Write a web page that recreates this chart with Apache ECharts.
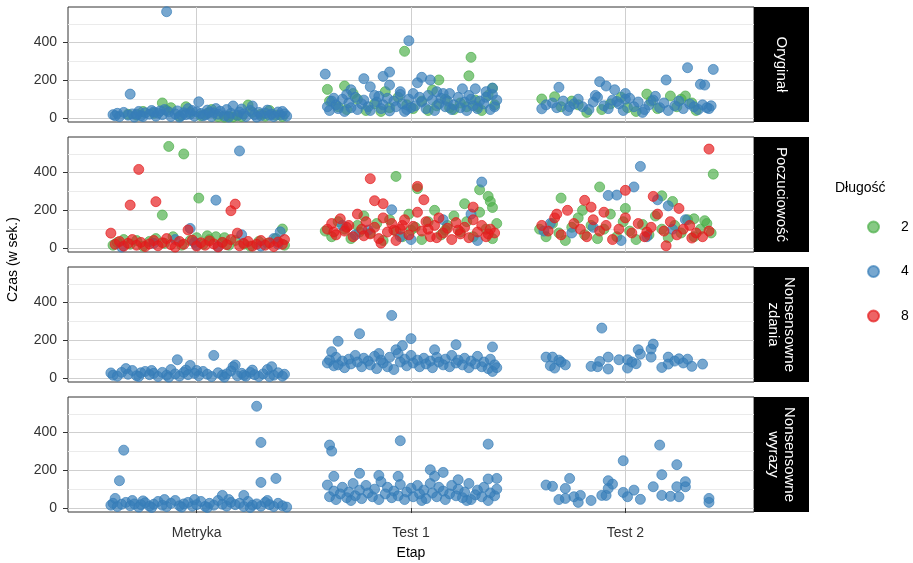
<!DOCTYPE html>
<html>
<head>
<meta charset="utf-8">
<script src="https://cdn.jsdelivr.net/npm/echarts@6/dist/echarts.min.js"></script>
<style>
html,body{margin:0;padding:0;background:#fff;}
#chart{width:913px;height:563px;}
</style>
</head>
<body>
<div id="chart"></div>
<script>
// ---------- data ----------
const categories = ['Metryka', 'Test 1', 'Test 2'];
const facetLabels = ['Oryginał', 'Poczuciowość', 'Nonsensowne\nzdania', 'Nonsensowne\nwyrazy'];
const lengthLevels = ['2', '4', '8'];
const lengthColors = ['#4DAF4A', '#377EB8', '#E41A1C'];
const yTicks = [0, 200, 400];
const yMinorTicks = [100, 300, 500];
const xTicks = [1, 2, 3];

// points: [jittered stage position, time in seconds]
const oryginal2 = [
  [0.68,20],[0.72,15],[0.80,25],[0.84,80],[0.86,40],[0.88,55],[0.92,10],[0.97,30],[1.02,12],[1.05,25],[1.10,8],[1.13,5],[1.15,10],[1.17,6],[1.19,12],[1.21,8],[1.24,69],[1.26,30],[1.30,20],[1.34,40],[1.37,15],[1.40,8],[0.75,35],[0.95,60],[1.07,45],[1.32,10],
  [1.97,354],[2.28,322],[2.27,224],[1.69,170],[1.61,152],[2.13,202],[2.38,158],[2.10,149],[1.62,90],[1.66,60],[1.70,45],[1.75,100],[1.79,40],[1.83,75],[1.86,35],[1.90,55],[1.94,110],[1.98,70],[2.01,50],[2.05,90],[2.08,40],[2.12,65],[2.16,100],[2.20,45],[2.23,80],[2.26,60],[2.30,95],[2.33,40],[2.36,120],[2.39,70],[1.73,130],[1.88,140],[2.18,55],[2.31,60],
  [2.61,101],[2.67,113],[3.10,127],[3.21,117],[3.28,117],[2.70,60],[2.75,90],[2.82,30],[2.89,45],[2.93,75],[3.01,55],[3.05,35],[3.12,90],[3.15,50],[3.24,60],[3.26,100],[3.31,80],[3.33,40],[2.98,110],[2.78,70]
];
const oryginal4 = [
  [0.61,18],[0.63,25],[0.64,8],[0.66,30],[0.68,15],[0.70,22],[0.71,5],[0.73,35],[0.74,12],[0.76,28],[0.78,20],[0.79,40],[0.81,10],[0.82,26],[0.84,18],[0.85,45],[0.87,32],[0.88,8],[0.90,22],[0.91,38],[0.93,14],[0.94,28],[0.96,50],[0.97,20],[0.99,10],[1.00,33],[1.01,86],[1.02,24],[1.04,16],[1.05,42],[1.07,8],[1.08,28],[1.10,20],[1.11,36],[1.13,12],[1.14,45],[1.16,25],[1.17,64],[1.19,15],[1.20,32],[1.22,22],[1.23,8],[1.25,40],[1.26,64],[1.27,18],[1.29,30],[1.30,12],[1.32,26],[1.33,42],[1.35,20],[1.36,8],[1.38,32],[1.39,16],[1.41,22],[1.42,10],[0.69,127],[0.86,564],[0.62,12],[0.75,8],[0.80,32],[0.92,5],[0.98,40],[1.03,12],[1.09,50],[1.15,5],[1.21,48],[1.28,5],[1.34,14],[1.40,35],[1.06,30],[0.95,18],[0.83,38],[0.72,20],
  [1.60,233],[1.99,410],[1.78,209],[1.87,221],[1.90,244],[1.81,166],[1.90,175],[2.03,187],[2.05,216],[2.09,202],[2.24,155],[2.30,155],[2.38,159],[1.72,150],[1.95,140],[2.15,130],[2.35,140],
  [1.61,60],[1.62,40],[1.63,90],[1.65,70],[1.66,50],[1.68,100],[1.69,35],[1.71,80],[1.72,55],[1.74,110],[1.75,45],[1.77,75],[1.78,95],[1.80,60],[1.81,40],[1.83,120],[1.84,85],[1.86,50],[1.87,70],[1.89,105],[1.90,38],[1.92,90],[1.93,60],[1.95,125],[1.96,75],[1.98,45],[1.99,100],[2.01,130],[2.02,65],[2.04,110],[2.05,85],[2.07,50],[2.08,120],[2.10,95],[2.11,40],[2.13,75],[2.14,105],[2.16,60],[2.17,90],[2.19,45],[2.20,70],[2.22,110],[2.23,55],[2.25,85],[2.26,40],[2.28,100],[2.29,65],[2.31,50],[2.32,90],[2.34,75],[2.35,110],[2.37,45],[2.38,125],[2.39,60],[2.40,95],[1.70,125],[1.85,115],[2.00,55],[2.12,140],[2.27,120],[1.64,105],[1.97,35],[2.18,130],
  [2.69,163],[2.88,193],[2.91,170],[3.29,267],[3.41,258],[3.19,202],[3.35,179],[3.37,175],[2.95,150],[3.00,130],
  [2.61,49],[2.63,70],[2.66,80],[2.68,55],[2.71,90],[2.73,40],[2.76,75],[2.78,100],[2.80,60],[2.83,45],[2.85,85],[2.87,110],[2.90,65],[2.92,50],[2.94,95],[2.97,75],[2.99,40],[3.02,105],[3.04,60],[3.06,85],[3.09,45],[3.11,70],[3.13,95],[3.16,55],[3.18,80],[3.20,40],[3.23,65],[3.25,90],[3.27,50],[3.30,75],[3.32,60],[3.34,45],[3.36,70],[3.38,55],[3.40,65],[3.39,50],[2.86,120],[3.00,100],[3.08,30],[3.14,115],[2.74,60],[2.96,88]
];
const poczucie2 = [
  [0.87,539],[0.94,499],[1.01,265],[0.84,175],[1.40,101],[0.61,15],[0.63,30],[0.66,45],[0.69,20],[0.72,40],[0.75,10],[0.78,35],[0.81,50],[0.85,25],[0.89,60],[0.93,15],[0.97,40],[1.00,55],[1.03,20],[1.06,45],[1.09,60],[1.12,30],[1.15,15],[1.18,40],[1.22,20],[1.25,10],[1.29,35],[1.33,25],[1.37,50],[1.41,15],[1.05,65],[1.13,55],
  [1.93,380],[2.03,315],[2.32,309],[2.36,274],[2.37,247],[2.38,215],[2.25,235],[1.60,90],[1.63,60],[1.66,140],[1.69,100],[1.72,50],[1.75,120],[1.78,170],[1.81,80],[1.84,130],[1.87,40],[1.90,150],[1.93,90],[1.96,60],[1.99,180],[2.02,110],[2.05,45],[2.08,140],[2.11,200],[2.14,70],[2.17,120],[2.20,170],[2.23,85],[2.26,140],[2.29,60],[2.32,190],[2.35,100],[2.38,50],[2.40,130],[1.76,85],[2.00,95],[2.16,95],
  [2.70,265],[2.88,324],[3.41,392],[3.17,277],[3.22,247],[3.32,155],[3.37,145],[2.60,100],[2.63,60],[2.66,130],[2.69,80],[2.72,40],[2.75,110],[2.78,160],[2.81,70],[2.84,120],[2.87,50],[2.90,100],[2.93,180],[2.96,60],[2.99,140],[3.02,90],[3.05,45],[3.08,125],[3.11,70],[3.14,170],[3.17,100],[3.20,55],[3.23,120],[3.26,80],[3.29,150],[3.32,60],[3.35,100],[3.38,130],[3.40,80],[2.80,200],[3.00,210]
];
const poczucie4 = [
  [1.20,515],[1.09,254],[0.97,104],[1.21,70],[1.39,86],[0.65,5],[0.80,25],[0.90,45],[1.00,15],[1.30,10],[1.36,50],[0.99,30],[1.10,8],[1.38,20],
  [2.33,350],[1.91,203],[1.68,120],[1.80,95],[1.95,60],[2.15,150],[2.28,180],[2.31,40],[2.00,45],[1.74,70],
  [3.07,433],[3.04,324],[2.96,281],[2.92,279],[3.15,256],[3.20,224],[2.65,130],[2.75,80],[2.85,110],[2.98,40],[3.10,60],[3.22,100],[3.28,150],[2.62,90]
];
const poczucie8 = [
  [0.73,417],[0.69,228],[0.81,246],[1.16,198],[1.18,233],[0.60,79],[0.96,96],[1.19,79],[0.62,20],[0.64,35],[0.66,10],[0.68,25],[0.70,45],[0.72,15],[0.74,30],[0.76,8],[0.78,22],[0.80,40],[0.82,12],[0.84,28],[0.86,50],[0.88,18],[0.90,5],[0.92,35],[0.94,20],[0.98,42],[1.00,10],[1.02,28],[1.04,15],[1.06,38],[1.08,22],[1.10,6],[1.12,30],[1.14,18],[1.16,45],[1.20,12],[1.22,25],[1.24,35],[1.26,10],[1.28,20],[1.30,40],[1.32,15],[1.34,28],[1.36,8],[1.38,32],[1.40,20],[1.41,45],
  [1.81,368],[2.03,327],[1.83,251],[1.87,235],[2.06,256],[2.29,217],[1.86,26],[1.61,100],[1.63,130],[1.65,70],[1.67,155],[1.69,90],[1.71,120],[1.73,60],[1.75,180],[1.77,100],[1.79,140],[1.81,75],[1.83,110],[1.85,50],[1.87,160],[1.89,85],[1.91,130],[1.93,40],[1.95,100],[1.97,150],[1.99,70],[2.01,115],[2.03,190],[2.05,90],[2.07,140],[2.09,60],[2.11,120],[2.13,160],[2.15,80],[2.17,105],[2.19,45],[2.21,135],[2.23,75],[2.25,110],[2.27,55],[2.29,150],[2.31,85],[2.33,120],[2.35,60],[2.37,100],[2.39,80],[1.64,85],[1.78,65],[1.92,95],[2.08,100],[2.22,95],[2.36,75],[1.70,110],[1.96,120],[2.12,55],
  [3.39,525],[3.00,306],[2.81,253],[2.84,217],[3.13,274],[3.25,210],[3.19,12],[3.31,53],[2.61,120],[2.64,90],[2.67,160],[2.70,70],[2.73,200],[2.76,130],[2.79,100],[2.82,60],[2.85,150],[2.88,90],[2.91,120],[2.94,45],[2.97,100],[3.00,160],[3.03,80],[3.06,130],[3.09,60],[3.12,110],[3.15,180],[3.18,90],[3.21,140],[3.24,70],[3.27,100],[3.30,120],[3.33,80],[3.36,60],[3.39,90],[2.68,180],[2.90,190],[3.10,85]
];
const zdania4 = [
  [0.91,97],[1.08,120],[0.97,67],[1.18,69],[1.17,60],[0.67,50],[1.35,60],[0.60,27],[0.61,15],[0.63,10],[0.65,30],[0.68,20],[0.70,40],[0.72,12],[0.74,28],[0.76,35],[0.78,18],[0.80,25],[0.82,8],[0.84,30],[0.86,15],[0.88,45],[0.90,22],[0.92,10],[0.94,30],[0.96,18],[0.99,25],[1.01,12],[1.03,35],[1.05,20],[1.07,8],[1.10,28],[1.12,15],[1.14,22],[1.16,38],[1.19,12],[1.21,25],[1.23,10],[1.25,30],[1.27,18],[1.29,8],[1.31,22],[1.33,45],[1.36,15],[1.38,28],[1.40,10],[1.41,20],[0.79,40],[0.87,5],[1.00,40],[1.13,5],[1.26,42],[1.34,8],[0.73,8],[0.95,42],[1.22,15],
  [1.91,332],[1.76,235],[1.66,195],[2.00,209],[2.21,177],[2.38,165],[1.96,172],[1.93,150],[1.61,80],[1.62,95],[1.64,65],[1.65,110],[1.66,70],[1.68,90],[1.69,55],[1.71,100],[1.72,75],[1.74,120],[1.75,85],[1.77,60],[1.78,105],[1.80,90],[1.81,70],[1.83,115],[1.84,50],[1.86,95],[1.87,80],[1.89,60],[1.90,110],[1.92,45],[1.94,130],[1.95,85],[1.97,100],[1.98,65],[2.00,120],[2.01,80],[2.03,95],[2.04,60],[2.06,105],[2.07,75],[2.09,90],[2.10,55],[2.12,110],[2.13,85],[2.15,70],[2.16,100],[2.18,60],[2.19,120],[2.21,80],[2.22,95],[2.24,70],[2.25,105],[2.27,55],[2.28,90],[2.30,75],[2.31,115],[2.33,60],[2.34,85],[2.36,50],[2.37,100],[2.38,35],[2.39,70],[2.40,55],[1.63,140],[1.85,130],[2.11,150],
  [2.63,111],[2.66,111],[2.65,65],[2.67,53],[2.70,85],[2.84,62],[2.88,88],[2.89,265],[2.92,111],[2.92,48],[2.97,97],[3.01,97],[3.01,53],[3.05,76],[3.06,150],[3.07,127],[3.12,154],[3.13,180],[3.12,111],[3.17,56],[3.20,111],[3.20,74],[3.25,102],[3.27,80],[3.29,100],[3.31,62],[3.36,74],[2.69,95],[2.72,70],[3.03,85],[3.23,90],[2.87,60]
];
const wyrazy4 = [
  [1.28,540],[1.30,348],[0.66,307],[0.64,145],[1.30,136],[1.37,157],[1.12,67],[1.22,67],[0.62,51],[0.75,38],[0.60,15],[0.61,25],[0.63,8],[0.65,20],[0.67,30],[0.69,12],[0.71,22],[0.73,5],[0.74,18],[0.76,28],[0.78,10],[0.80,20],[0.82,35],[0.84,15],[0.86,8],[0.88,25],[0.90,40],[0.92,12],[0.94,22],[0.96,30],[0.98,10],[1.00,18],[1.02,35],[1.04,8],[1.06,25],[1.08,15],[1.10,40],[1.12,20],[1.14,10],[1.16,30],[1.18,18],[1.20,25],[1.22,8],[1.24,35],[1.26,15],[1.28,22],[1.30,10],[1.32,30],[1.34,18],[1.36,8],[1.38,25],[1.40,12],[1.42,5],[0.70,40],[0.85,45],[0.99,45],[1.15,45],[1.33,40],[0.79,3],[1.05,3],[1.25,3],[0.93,5],
  [1.62,334],[1.63,302],[1.95,357],[2.36,339],[2.09,203],[2.15,189],[2.11,168],[1.76,184],[1.85,173],[1.94,168],[2.22,150],[1.64,168],[1.61,122],[2.36,154],[2.40,157],
  [1.62,60],[1.64,90],[1.65,45],[1.67,75],[1.68,110],[1.70,55],[1.71,85],[1.73,130],[1.74,65],[1.76,95],[1.77,50],[1.79,120],[1.80,80],[1.82,60],[1.83,100],[1.85,45],[1.86,140],[1.88,75],[1.89,110],[1.91,55],[1.92,90],[1.94,65],[1.95,125],[1.97,45],[1.98,85],[2.00,105],[2.01,60],[2.03,120],[2.04,75],[2.06,95],[2.07,50],[2.09,130],[2.10,80],[2.12,60],[2.13,110],[2.15,90],[2.16,45],[2.18,75],[2.19,120],[2.21,65],[2.22,100],[2.24,55],[2.25,85],[2.27,130],[2.28,45],[2.30,70],[2.31,95],[2.33,60],[2.34,110],[2.36,40],[2.37,80],[2.39,65],[2.40,100],[1.72,40],[2.05,40],[2.26,40],
  [2.63,122],[2.74,157],[2.72,104],[2.72,51],[2.78,30],[2.79,67],[2.89,67],[2.92,145],[2.99,251],[2.91,67],[2.92,104],[2.94,127],[2.99,83],[3.04,95],[3.07,46],[3.13,113],[3.16,334],[3.17,177],[3.17,67],[3.21,62],[3.24,230],[3.24,113],[3.25,60],[3.28,140],[3.28,113],[3.39,51],[3.39,30],[2.66,115],[2.76,60],[2.84,40],[3.01,60],[2.69,45]
];

// ---------- layout ----------
const gridTops = [7, 137, 267, 397];
const gridH = 115, gridL = 68, gridW = 686, stripW = 55;
const FONT = '"Liberation Sans", Arial, sans-serif';

const facetData = [
  [oryginal2, oryginal4, null],
  [poczucie2, poczucie4, poczucie8],
  [null, zdania4, null],
  [null, wyrazy4, null]
];

const grids = [], xAxes = [], yAxes = [], series = [], graphics = [];
gridTops.forEach((t, i) => {
  const last = i === gridTops.length - 1;
  grids.push({ left: gridL, top: t, width: gridW, height: gridH, show: true,
    borderColor: '#333', borderWidth: 1, backgroundColor: '#fff', containLabel: false });
  xAxes.push({
    gridIndex: i, type: 'value', min: 0.4, max: 3.6,
    axisLine: { show: false },
    axisTick: { show: last, length: 5, lineStyle: { color: '#333' }, customValues: xTicks },
    axisLabel: { show: last, customValues: xTicks, margin: 14, color: '#333', fontSize: 14, fontFamily: FONT,
      formatter: v => categories[Math.round(v) - 1] },
    splitLine: { show: true, lineStyle: { color: '#cfcfcf', width: 1 } }
  });
  yAxes.push({
    gridIndex: i, type: 'value', min: -21, max: 589,
    axisLine: { show: false },
    axisTick: { show: true, length: 5, lineStyle: { color: '#333' }, customValues: yTicks },
    axisLabel: { customValues: yTicks, margin: 11, color: '#333', fontSize: 14, fontFamily: FONT },
    splitLine: { show: true, lineStyle: { color: '#cfcfcf', width: 1 } }
  });
  graphics.push({ type: 'rect', shape: { x: gridL + gridW, y: t, width: stripW, height: gridH },
    style: { fill: '#000' }, z: 10 });
  graphics.push({ type: 'text', x: gridL + gridW + stripW / 2, y: t + gridH / 2, rotation: -Math.PI / 2,
    style: { text: facetLabels[i], fill: '#fff', font: '15px ' + FONT, align: 'center', verticalAlign: 'middle', lineHeight: 16 },
    z: 11 });
});
// minor grid axes
gridTops.forEach((t, i) => {
  yAxes.push({
    gridIndex: i, type: 'value', min: -21, max: 589, position: 'left',
    axisLine: { show: false }, axisTick: { show: false, customValues: yMinorTicks },
    axisLabel: { show: false, customValues: yMinorTicks },
    splitLine: { show: true, lineStyle: { color: '#ebebeb', width: 1 } },
    z: 0
  });
});

facetData.forEach((row, i) => {
  row.forEach((pts, k) => {
    if (!pts) return;
    series.push({
      type: 'scatter', name: lengthLevels[k], xAxisIndex: i, yAxisIndex: i,
      data: pts, symbolSize: 10, z: 2 + k,
      itemStyle: { color: lengthColors[k], opacity: 0.68, borderColor: lengthColors[k], borderWidth: 1 },
      emphasis: { disabled: true }
    });
  });
});

graphics.push({ type: 'text', x: 13, y: gridTops[0] + (gridTops[3] + gridH - gridTops[0]) / 2, rotation: Math.PI / 2,
  style: { text: 'Czas (w sek.)', fill: '#000', font: '14px ' + FONT, align: 'center', verticalAlign: 'middle' } });
graphics.push({ type: 'text', x: gridL + gridW / 2, y: 553,
  style: { text: 'Etap', fill: '#000', font: '14px ' + FONT, align: 'center', verticalAlign: 'middle' } });
graphics.push({ type: 'text', x: 835, y: 188,
  style: { text: 'Długość', fill: '#000', font: '14px ' + FONT, align: 'left', verticalAlign: 'middle' } });

const chart = echarts.init(document.getElementById('chart'), null, { renderer: 'canvas' });
chart.setOption({
  animation: false,
  backgroundColor: '#fff',
  grid: grids, xAxis: xAxes, yAxis: yAxes, series: series,
  legend: {
    data: lengthLevels.map(n => ({ name: n, icon: 'circle' })),
    orient: 'vertical', left: 862, top: 215, itemWidth: 11, itemHeight: 11, itemGap: 30.5,
    selectedMode: false,
    textStyle: { fontSize: 14, color: '#000', fontFamily: FONT, lineHeight: 11, padding: [0, 0, 0, 17] }
  },
  graphic: graphics
});
</script>
</body>
</html>
